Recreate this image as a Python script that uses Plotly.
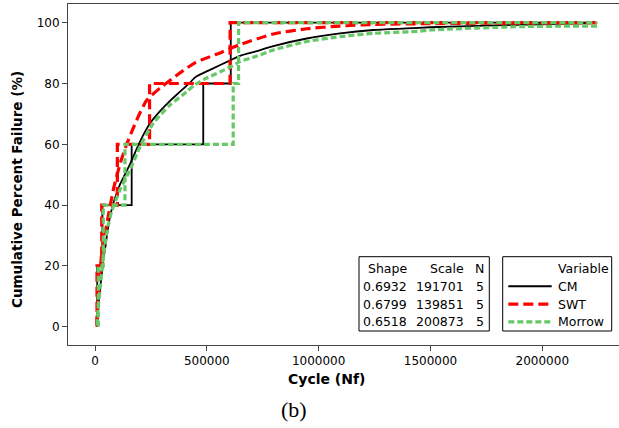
import plotly.graph_objects as go

# ---------------- data ----------------
variables = ["CM", "SWT", "Morrow"]
shape_vals = [0.6932, 0.6799, 0.6518]
scale_vals = [191701, 139851, 200873]
n_vals = [5, 5, 5]

cum_percent = [20, 40, 60, 80, 100]

# failure cycles (empirical CDF steps)
cm_fail = [10000, 33000, 164000, 484000, 607000]
swt_fail = [9000, 30000, 100000, 244000, 604000]
morrow_fail = [14800, 37000, 134000, 618000, 642000]

# fitted Weibull curves
cm_fit_x = [9000, 14800, 22400, 30000, 37100, 47800, 56700, 67100, 81900, 97000,
            111800, 156500, 201200, 246000, 290700, 335400, 380100, 424800, 447000,
            514300, 606800, 648400, 715500, 797400, 946700, 1095600, 1244600,
            1393900, 1498000, 1833000, 2245000]
cm_fit_y = [0.5, 6.0, 12.1, 17.0, 21.9, 26.9, 31.8, 36.2, 40.6, 43.9,
            46.8, 53.5, 60.9, 66.9, 70.9, 74.3, 77.3, 80.3, 82.0,
            84.5, 87.7, 89.1, 90.5, 92.3, 94.8, 96.5, 97.6,
            98.1, 98.5, 99.2, 99.9]

swt_fit_x = [8000, 13400, 30000, 52300, 81800, 111800, 141700, 186500, 231200,
             290700, 380100, 447000, 566600, 648400, 797400, 946700, 1095600,
             1244600, 1498000, 1900000, 2245000]
swt_fit_y = [0.5, 8.0, 24.0, 33.5, 45.0, 53.5, 60.0, 68.0, 74.5,
             78.5, 83.5, 86.8, 90.3, 92.8, 96.3, 98.0, 98.9,
             99.4, 99.7, 99.9, 100.0]

morrow_fit_x = [9500, 14800, 22400, 30000, 37100, 47800, 59500, 74700, 111800,
                156500, 201200, 260700, 335400, 410000, 447000, 499500, 559000,
                606800, 648400, 715500, 797400, 946700, 1095600, 1244600, 1453000,
                1498000, 1900000, 2245000]
morrow_fit_y = [0.5, 7.0, 12.5, 18.0, 23.0, 28.5, 33.5, 38.0, 45.0,
                51.5, 59.2, 66.9, 72.9, 77.3, 79.6, 81.8, 83.8,
                85.5, 87.2, 88.8, 91.0, 93.8, 95.4, 96.5, 97.2,
                97.6, 98.7, 98.9]

x_ticks = [0, 500000, 1000000, 1500000, 2000000]
y_ticks = [0, 20, 40, 60, 80, 100]

# ---------------- styles ----------------
colors = ["#000000", "#FF0000", "#66C866"]
widths_step = [1.8, 3.2, 3.2]
widths_fit = [1.8, 3.2, 3.2]
dashes = ["solid", "10px,5px", "6px,3px"]

W, H = 619, 428
L, T, R, B = 68, 4, 619, 345


def pxx(x):
    return (x - L) / (R - L)


def pxy(y):
    return (B - y) / (B - T)


fig = go.Figure()

fails = [cm_fail, swt_fail, morrow_fail]
fits = [(cm_fit_x, cm_fit_y), (swt_fit_x, swt_fit_y), (morrow_fit_x, morrow_fit_y)]

for i, name in enumerate(variables):
    f = fails[i]
    fx, fy = fits[i]
    sx = [f[0]] + f + [fx[-1]]
    sy = [0] + cum_percent + [cum_percent[-1]]
    fig.add_trace(go.Scatter(
        x=sx, y=sy, mode="lines", line_shape="hv", name=name,
        line=dict(color=colors[i], width=widths_step[i], dash=dashes[i]),
        showlegend=False, hoverinfo="skip"))
    fig.add_trace(go.Scatter(
        x=fx, y=fy, mode="lines", line_shape="spline", name=name + " fit",
        line=dict(color=colors[i], width=widths_fit[i], dash=dashes[i], smoothing=0.6),
        showlegend=False, hoverinfo="skip"))

font_main = "DejaVu Sans"

annotations = []
shapes = []

# table box
shapes.append(dict(type="rect", xref="paper", yref="paper",
                   x0=pxx(359), x1=pxx(489.3), y0=pxy(331), y1=pxy(256.7),
                   line=dict(color="black", width=1), fillcolor="white", layer="above"))
# legend box
shapes.append(dict(type="rect", xref="paper", yref="paper",
                   x0=pxx(502.7), x1=pxx(611.7), y0=pxy(331), y1=pxy(256.7),
                   line=dict(color="black", width=1), fillcolor="white", layer="above"))

row_y = [268.5, 286.3, 304.1, 321.9]
col_x = [408.5, 465.5, 485.5]
tfs = 12.5

headers = ["Shape", "Scale", "N"]
for c, h in enumerate(headers):
    annotations.append(dict(xref="paper", yref="paper", x=pxx(col_x[c]), y=pxy(row_y[0]),
                            text=h, showarrow=False, xanchor="right", yanchor="middle",
                            font=dict(family=font_main, size=tfs, color="black")))
for r in range(3):
    vals = [f"{shape_vals[r]:.4f}", f"{scale_vals[r]}", f"{n_vals[r]}"]
    for c, v in enumerate(vals):
        annotations.append(dict(xref="paper", yref="paper", x=pxx(col_x[c]), y=pxy(row_y[r + 1]),
                                text=v, showarrow=False, xanchor="right", yanchor="middle",
                                font=dict(family=font_main, size=tfs, color="black")))

# legend contents
annotations.append(dict(xref="paper", yref="paper", x=pxx(555.5), y=pxy(row_y[0]),
                        text="Variable", showarrow=False, xanchor="left", yanchor="middle",
                        font=dict(family=font_main, size=tfs, color="black")))
for r, name in enumerate(variables):
    shapes.append(dict(type="line", xref="paper", yref="paper",
                       x0=pxx(508.3), x1=pxx(551.7), y0=pxy(row_y[r + 1]), y1=pxy(row_y[r + 1]),
                       line=dict(color=colors[r], width=widths_step[r] if r else 2, dash=dashes[r]),
                       layer="above"))
    annotations.append(dict(xref="paper", yref="paper", x=pxx(555.5), y=pxy(row_y[r + 1]),
                            text=name, showarrow=False, xanchor="left", yanchor="middle",
                            font=dict(family=font_main, size=tfs, color="black")))

# axis titles
annotations.append(dict(xref="paper", yref="paper", x=pxx(326.7), y=pxy(379.5),
                        text="<b>Cycle (Nf)</b>", showarrow=False, xanchor="center", yanchor="middle",
                        font=dict(family=font_main, size=14, color="black")))
annotations.append(dict(xref="paper", yref="paper", x=pxx(17), y=pxy(190),
                        text="<b>Cumulative Percent Failure (%)</b>", showarrow=False,
                        textangle=-90, xanchor="center", yanchor="middle",
                        font=dict(family=font_main, size=13.5, color="black")))
annotations.append(dict(xref="paper", yref="paper", x=pxx(294), y=pxy(409),
                        text="(b)", showarrow=False, xanchor="center", yanchor="middle",
                        font=dict(family="Liberation Serif", size=22, color="black")))

fig.update_layout(
    width=W, height=H,
    margin=dict(l=L, r=W - R, t=T, b=H - B, pad=0),
    paper_bgcolor="white", plot_bgcolor="white",
    shapes=shapes, annotations=annotations,
    showlegend=False,
    xaxis=dict(range=[-120725, 2342960], tickvals=x_ticks, tickformat="d",
               ticks="outside", ticklen=5, tickcolor="#444", showgrid=False, zeroline=False,
               showline=True, linecolor="#444", linewidth=1, mirror=True,
               tickfont=dict(family=font_main, size=12, color="black")),
    yaxis=dict(range=[-6.02, 106.15], tickvals=y_ticks,
               ticks="outside", ticklen=5, tickcolor="#444", showgrid=False, zeroline=False,
               showline=True, linecolor="#444", linewidth=1, mirror=False,
               tickfont=dict(family=font_main, size=12, color="black")),
)

fig.write_html("out.html", config={"displayModeBar": False},
               post_script="document.body.style.margin='0';document.body.style.overflow='hidden';")
